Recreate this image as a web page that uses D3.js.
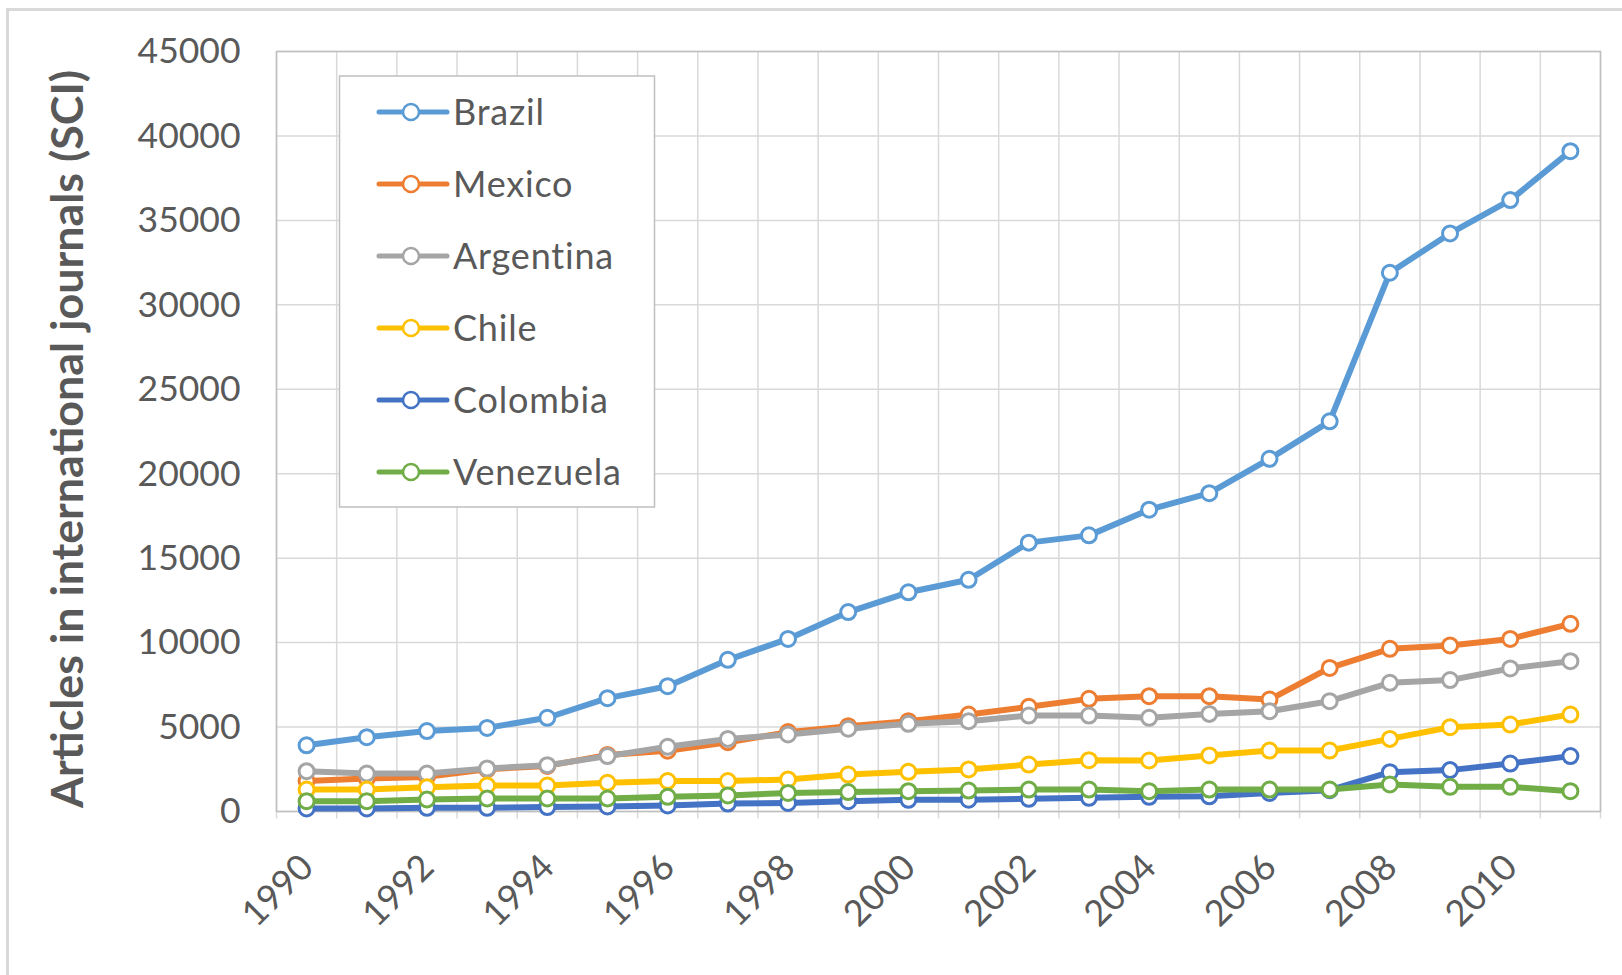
<!DOCTYPE html>
<html>
<head>
<meta charset="utf-8">
<script src="https://cdn.jsdelivr.net/npm/d3@7"></script>
<style>
  body { margin: 0; background: #fff; }
  svg { display: block; font-family: Lato, "Open Sans", sans-serif; }
</style>
</head>
<body>
<svg id="chart" width="1622" height="975"></svg>
<script>
// Articles in international journals (SCI), 1990–2011
const years = d3.range(1990, 2012);
const countries = ["Brazil", "Mexico", "Argentina", "Chile", "Colombia", "Venezuela"];
const colors = ["#5B9BD5", "#ED7D31", "#A5A5A5", "#FFC000", "#4472C4", "#70AD47"];

const brazil    = [3920, 4400, 4760, 4950, 5550, 6710, 7420, 8980, 10220, 11810, 12980, 13720, 15920, 16350, 17870, 18850, 20880, 23100, 31900, 34230, 36200, 39100];
const mexico    = [1800, 1950, 2050, 2500, 2700, 3350, 3600, 4100, 4700, 5050, 5350, 5740, 6200, 6670, 6830, 6830, 6630, 8500, 9630, 9830, 10220, 11110];
const argentina = [2390, 2250, 2250, 2550, 2740, 3280, 3830, 4300, 4560, 4900, 5190, 5350, 5680, 5680, 5550, 5780, 5940, 6530, 7620, 7780, 8470, 8900];
const chile     = [1300, 1300, 1440, 1540, 1540, 1700, 1800, 1800, 1900, 2190, 2350, 2490, 2780, 3040, 3020, 3320, 3610, 3610, 4300, 4990, 5150, 5740];
const colombia  = [180, 180, 220, 220, 260, 300, 360, 470, 510, 610, 690, 700, 750, 810, 870, 900, 1100, 1260, 2330, 2450, 2840, 3280];
const venezuela = [610, 610, 710, 770, 770, 770, 870, 950, 1100, 1150, 1200, 1240, 1300, 1300, 1200, 1300, 1300, 1300, 1600, 1460, 1460, 1200];

const yTickValues = d3.range(0, 45001, 5000);
const xTickLabels = years.filter(y => y % 2 === 0);
const yTitle = "Articles in international journals (SCI)";

const seriesValues = [brazil, mexico, argentina, chile, colombia, venezuela];
const series = countries.map((name, i) => ({
  name, color: colors[i],
  points: years.map((yr, j) => ({ year: yr, value: seriesValues[i][j] }))
}));

const svg = d3.select("#chart");
const textColor = "#595959";
const gridColor = "#D9D9D9";

// chart area frame
svg.append("rect")
  .attr("x", 7.5).attr("y", 9.5).attr("width", 1640).attr("height", 1000)
  .attr("fill", "#fff").attr("stroke", "#D9D9D9").attr("stroke-width", 3);

const plot = { left: 276.5, right: 1600.5, top: 51.5, bottom: 811.5 };

const x = d3.scaleBand().domain(years).range([plot.left, plot.right]).padding(0);
const cx = yr => x(yr) + x.bandwidth() / 2;
const y = d3.scaleLinear().domain([0, 45000]).range([plot.bottom, plot.top]);

// horizontal gridlines
svg.append("g").selectAll("line").data(yTickValues).join("line")
  .attr("x1", plot.left).attr("x2", plot.right)
  .attr("y1", d => y(d)).attr("y2", d => y(d))
  .attr("stroke", gridColor).attr("stroke-width", 1.5);

// vertical gridlines on category boundaries, extended below the axis as tick marks
const bounds = years.map(yr => x(yr)).concat([plot.right]);
svg.append("g").selectAll("line").data(bounds).join("line")
  .attr("x1", d => d).attr("x2", d => d)
  .attr("y1", plot.top).attr("y2", plot.bottom + 7)
  .attr("stroke", gridColor).attr("stroke-width", 1.5);

// plot outline
svg.append("rect")
  .attr("x", plot.left).attr("y", plot.top)
  .attr("width", plot.right - plot.left).attr("height", plot.bottom - plot.top)
  .attr("fill", "none").attr("stroke", "#BFBFBF").attr("stroke-width", 1.5);

// y axis
const yAxis = svg.append("g")
  .attr("transform", `translate(${plot.left},0)`)
  .call(d3.axisLeft(y).tickValues(yTickValues).tickSize(0).tickPadding(36).tickFormat(d3.format("d")));
yAxis.select(".domain").remove();
yAxis.selectAll("text")
  .attr("fill", textColor).attr("font-size", 35.5).attr("font-family", "Lato, sans-serif");

// x axis
const xAxis = svg.append("g")
  .attr("transform", `translate(0,${plot.bottom})`)
  .call(d3.axisBottom(x).tickValues(xTickLabels).tickSize(0));
xAxis.select(".domain").remove();
xAxis.selectAll("text")
  .attr("fill", textColor).attr("font-size", 36).attr("font-family", "Lato, sans-serif")
  .attr("text-anchor", "end")
  .attr("dy", "0.35em")
  .attr("transform", "translate(-2,47) rotate(-45)");

// y axis title
const title = svg.append("text")
  .attr("transform", "translate(67,439) rotate(-90)")
  .attr("text-anchor", "middle").attr("dy", "0.36em")
  .attr("font-weight", "bold").attr("fill", textColor)
  .attr("font-size", 36)
  .text(yTitle);
const titleLen = title.node().getComputedTextLength();
title.attr("font-size", 36 * 738 / titleLen);

// series lines and markers
const line = d3.line().x(d => cx(d.year)).y(d => y(d.value));
series.forEach(s => {
  const g = svg.append("g");
  g.append("path").datum(s.points)
    .attr("d", line).attr("fill", "none")
    .attr("stroke", s.color).attr("stroke-width", 6)
    .attr("stroke-linejoin", "round").attr("stroke-linecap", "round");
  g.selectAll("circle").data(s.points).join("circle")
    .attr("cx", d => cx(d.year)).attr("cy", d => y(d.value)).attr("r", 7.5)
    .attr("fill", "#fff").attr("stroke", s.color).attr("stroke-width", 3);
});

// legend
const legend = svg.append("g");
legend.append("rect")
  .attr("x", 339.5).attr("y", 76).attr("width", 315).attr("height", 431)
  .attr("fill", "#fff").attr("stroke", "#BFBFBF").attr("stroke-width", 1.5);
const rows = legend.selectAll("g.row").data(series).join("g")
  .attr("class", "row")
  .attr("transform", (d, i) => `translate(0,${112 + i * 72})`);
rows.append("line")
  .attr("x1", 379).attr("x2", 447).attr("y1", 0).attr("y2", 0)
  .attr("stroke", d => d.color).attr("stroke-width", 5).attr("stroke-linecap", "round");
rows.append("circle")
  .attr("cx", 411).attr("cy", 0).attr("r", 8)
  .attr("fill", "#fff").attr("stroke", d => d.color).attr("stroke-width", 2.5);
rows.append("text")
  .attr("x", 453).attr("y", 0).attr("dy", "0.36em")
  .attr("font-size", 36).attr("letter-spacing", 0.8).attr("fill", textColor)
  .text(d => d.name);
</script>
</body>
</html>
